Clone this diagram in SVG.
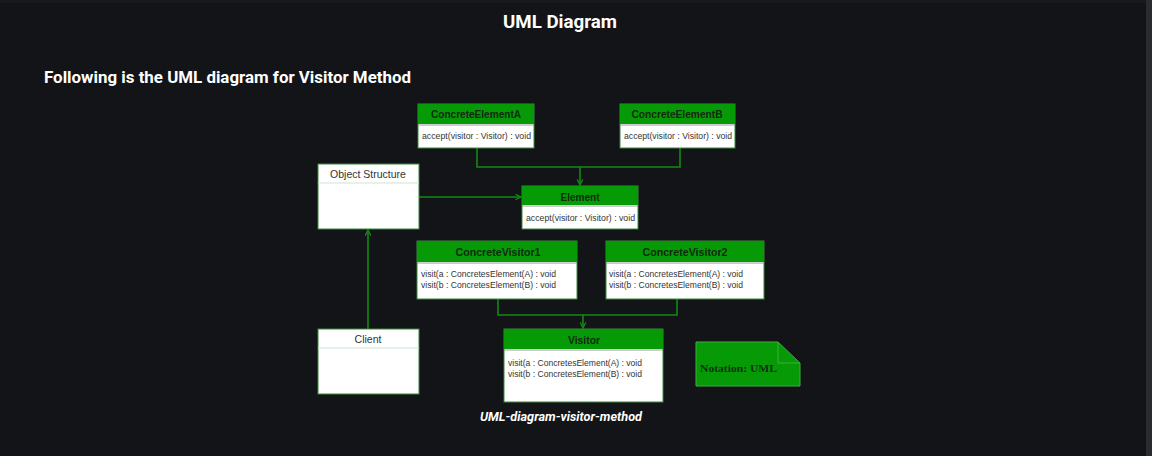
<svg xmlns="http://www.w3.org/2000/svg" width="1152" height="456" viewBox="0 0 1152 456">
<style>
.bg{fill:#131417}
.box{fill:#ffffff;stroke:#3a8a3a;stroke-width:1}
.hdr{fill:#069a06}
.sep{stroke:#9a9a9a;stroke-width:1.2}
.sepl{stroke:#cfe3cf;stroke-width:1}
.ht{font-family:"Liberation Sans",Arial,sans-serif;font-size:10.5px;font-weight:bold;fill:#0f2a0f;text-anchor:middle}
.bt{font-family:"Liberation Sans",Arial,sans-serif;font-size:8.6px;fill:#333}
.pt{font-family:"Liberation Sans",Arial,sans-serif;font-size:10.5px;fill:#333;text-anchor:middle}
.conn{fill:none;stroke:#128a12;stroke-width:1.6}
.title{font-family:Roboto,"Open Sans",sans-serif;font-weight:bold;fill:#ffffff}
</style>
<defs>
<marker id="arr" viewBox="0 0 10 10" refX="9" refY="5" markerWidth="7" markerHeight="7" orient="auto" markerUnits="userSpaceOnUse">
<path d="M1,1 L9,5 L1,9" fill="none" stroke="#128a12" stroke-width="1.8"/>
</marker>
</defs>
<rect class="bg" x="0" y="0" width="1152" height="456"/>
<rect x="0" y="0" width="1146" height="3" fill="#18191c"/>
<rect x="1146" y="0" width="6" height="456" fill="#2a2b2d"/>

<text class="title" x="560" y="28" font-size="19" text-anchor="middle" textLength="114" lengthAdjust="spacingAndGlyphs">UML Diagram</text>
<text class="title" x="44" y="83" font-size="16.5" font-weight="600" textLength="367" lengthAdjust="spacingAndGlyphs">Following is the UML diagram for Visitor Method</text>

<g id="connectors">
<path class="conn" d="M477,148 V167 H680 V148"/>
<path class="conn" d="M580,167 V185" marker-end="url(#arr)"/>
<path class="conn" d="M419,197 H521" marker-end="url(#arr)"/>
<path class="conn" d="M498,299 V315 H677 V299"/>
<path class="conn" d="M583,315 V328" marker-end="url(#arr)"/>
<path class="conn" d="M368,329 V230" marker-end="url(#arr)"/>
</g>

<g id="ConcreteElementA">
<rect class="box" x="418" y="104" width="116" height="44"/>
<rect class="hdr" x="418" y="104" width="116" height="20"/>
<line class="sep" x1="418" y1="125" x2="534" y2="125"/>
<text class="ht" x="476" y="118" textLength="90" lengthAdjust="spacingAndGlyphs">ConcreteElementA</text>
<text class="bt" x="422" y="139" textLength="109" lengthAdjust="spacingAndGlyphs">accept(visitor : Visitor) : void</text>
</g>

<g id="ConcreteElementB">
<rect class="box" x="620" y="104" width="115" height="44"/>
<rect class="hdr" x="620" y="104" width="115" height="20"/>
<line class="sep" x1="620" y1="125" x2="735" y2="125"/>
<text class="ht" x="677" y="118" textLength="91" lengthAdjust="spacingAndGlyphs">ConcreteElementB</text>
<text class="bt" x="624" y="139" textLength="108" lengthAdjust="spacingAndGlyphs">accept(visitor : Visitor) : void</text>
</g>

<g id="ObjectStructure">
<rect class="box" x="318" y="164" width="101" height="65"/>
<line class="sepl" x1="318" y1="183" x2="419" y2="183"/>
<text class="pt" x="368" y="178">Object Structure</text>
</g>

<g id="Element">
<rect class="box" x="522" y="186" width="116" height="43"/>
<rect class="hdr" x="522" y="186" width="116" height="19"/>
<line class="sep" x1="522" y1="206" x2="638" y2="206"/>
<text class="ht" x="580" y="201" textLength="39" lengthAdjust="spacingAndGlyphs">Element</text>
<text class="bt" x="526" y="221" textLength="109" lengthAdjust="spacingAndGlyphs">accept(visitor : Visitor) : void</text>
</g>

<g id="ConcreteVisitor1">
<rect class="box" x="417" y="241" width="160" height="58"/>
<rect class="hdr" x="417" y="241" width="160" height="21"/>
<line class="sep" x1="417" y1="263" x2="577" y2="263"/>
<text class="ht" x="498" y="256" textLength="85" lengthAdjust="spacingAndGlyphs">ConcreteVisitor1</text>
<text class="bt" x="421" y="277" textLength="135" lengthAdjust="spacingAndGlyphs">visit(a : ConcretesElement(A) : void</text>
<text class="bt" x="421" y="288" textLength="135" lengthAdjust="spacingAndGlyphs">visit(b : ConcretesElement(B) : void</text>
</g>

<g id="ConcreteVisitor2">
<rect class="box" x="606" y="241" width="158" height="58"/>
<rect class="hdr" x="606" y="241" width="158" height="21"/>
<line class="sep" x1="606" y1="263" x2="764" y2="263"/>
<text class="ht" x="685" y="256" textLength="85" lengthAdjust="spacingAndGlyphs">ConcreteVisitor2</text>
<text class="bt" x="609" y="277" textLength="134" lengthAdjust="spacingAndGlyphs">visit(a : ConcretesElement(A) : void</text>
<text class="bt" x="609" y="288" textLength="134" lengthAdjust="spacingAndGlyphs">visit(b : ConcretesElement(B) : void</text>
</g>

<g id="Client">
<rect class="box" x="318" y="329" width="101" height="65"/>
<line class="sepl" x1="318" y1="348" x2="419" y2="348"/>
<text class="pt" x="368" y="343">Client</text>
</g>

<g id="Visitor">
<rect class="box" x="504" y="329" width="159" height="73"/>
<rect class="hdr" x="504" y="329" width="159" height="20"/>
<line class="sep" x1="504" y1="350" x2="663" y2="350"/>
<text class="ht" x="584" y="344" textLength="32" lengthAdjust="spacingAndGlyphs">Visitor</text>
<text class="bt" x="508" y="366" textLength="134" lengthAdjust="spacingAndGlyphs">visit(a : ConcretesElement(A) : void</text>
<text class="bt" x="508" y="377" textLength="134" lengthAdjust="spacingAndGlyphs">visit(b : ConcretesElement(B) : void</text>
</g>

<g id="Note">
<path d="M696,342 H778 L800,363 V386 H696 Z" fill="#069a06" stroke="#3fae3f" stroke-width="1"/>
<path d="M778,342 V363 H800" fill="none" stroke="#3fae3f" stroke-width="1"/>
<text x="700" y="372" font-family="'Liberation Serif','Times New Roman',serif" font-size="10.5" font-weight="bold" fill="#123012" textLength="77" lengthAdjust="spacingAndGlyphs">Notation: UML</text>
</g>

<text x="561" y="421" font-family="Roboto,'Open Sans',sans-serif" font-size="12" font-style="italic" font-weight="bold" fill="#ffffff" text-anchor="middle" textLength="162" lengthAdjust="spacingAndGlyphs">UML-diagram-visitor-method</text>
</svg>
